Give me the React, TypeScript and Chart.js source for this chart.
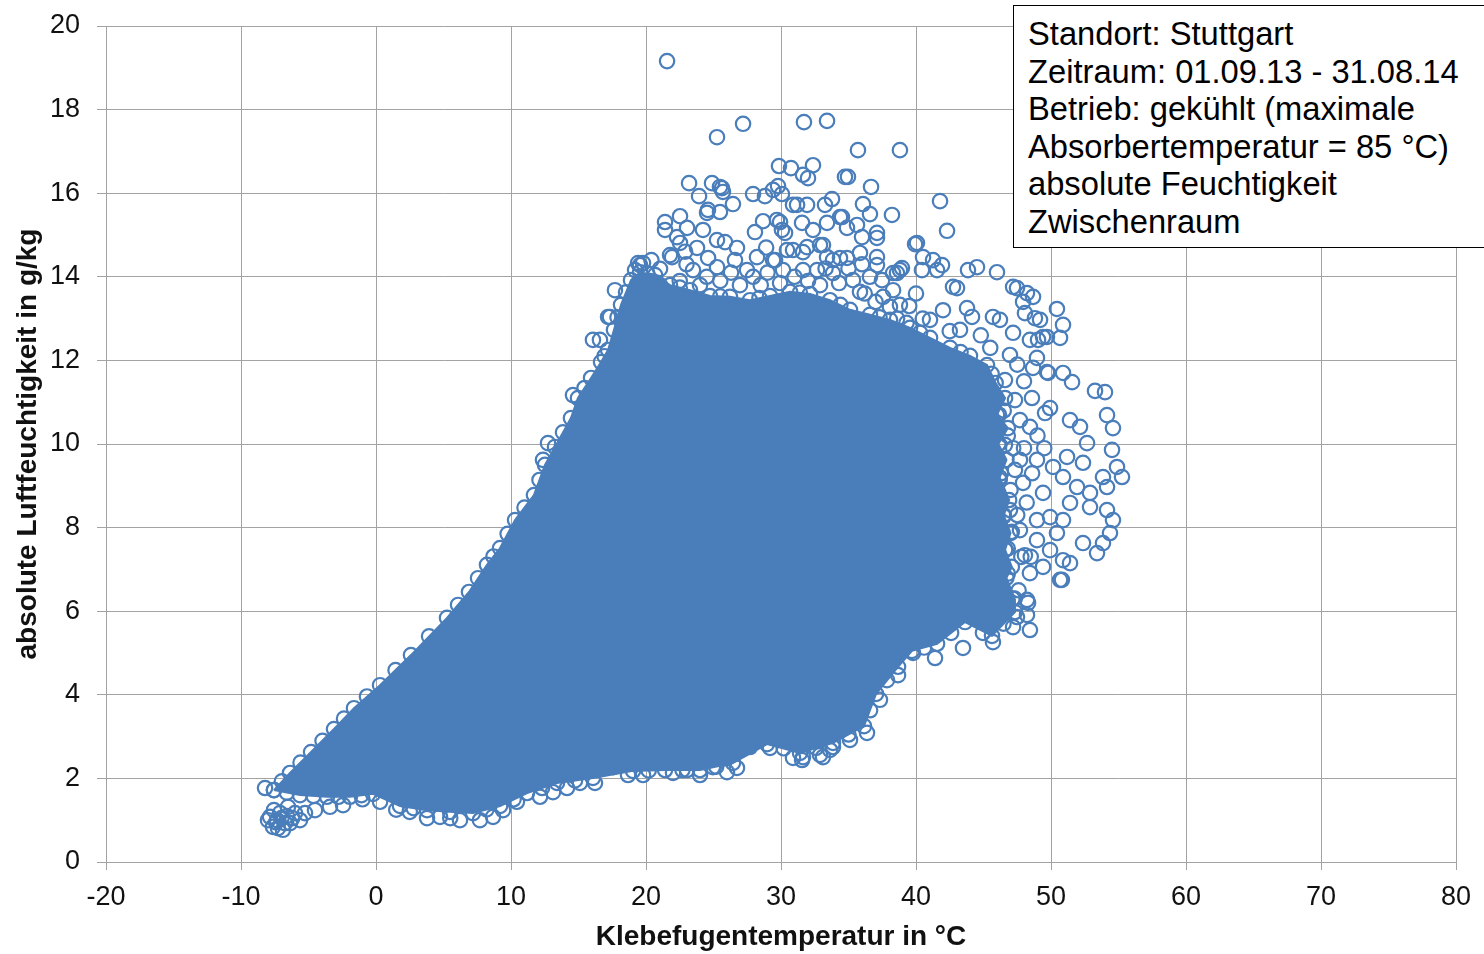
import { useEffect, useRef } from "react";
import { Chart, registerables } from "chart.js";

Chart.register(...registerables);

// Axis ranges (°C / g/kg)
const tempRange = [-20, 80];
const humidityRange = [0, 20];
const tempStep = 10;
const humidityStep = 2;

// Outline of the densely packed part of the point cloud (temperature °C, humidity g/kg)
const coreTemperature = [
  -7.56, -6.37, -4.81, -3.11, -1.63, 0.3, 2.59, 5.26, 6.89, 8.22, 9.19, 10.3, 11.7, 12.52, 13.26, 14.44,
  14.96, 15.93, 16.67, 17.19, 17.63, 18.15, 18.89, 19.56, 20.67, 21.78, 23.26, 24.74, 26.22, 27.7, 29.19,
  30.67, 32.15, 33.63, 35.11, 36.59, 38.07, 39.56, 41.04, 42.52, 44.0, 45.26, 45.9, 46.6, 46.0, 46.8,
  46.1, 46.7, 46.2, 46.9, 46.5, 47.0, 46.6, 47.1, 46.7, 47.3, 47.33, 45.63, 43.63, 41.56, 39.7, 38.67,
  37.04, 36.15, 33.85, 31.41, 28.96, 26.44, 24.0, 21.41, 19.04, 16.07, 13.41, 11.19, 9.19, 7.19, 5.48,
  3.78, 1.78, -0.22, -1.93, -3.63, -5.63, -7.56,
];
const coreHumidity = [
  1.72, 2.13, 2.63, 3.18, 3.68, 4.23, 4.95, 5.84, 6.46, 7.11, 7.51, 8.18, 8.78, 9.5, 9.93, 10.62, 11.1,
  11.58, 11.96, 12.25, 12.73, 13.33, 13.92, 14.11, 14.04, 13.8, 13.68, 13.54, 13.52, 13.44, 13.54, 13.64,
  13.59, 13.44, 13.21, 13.09, 12.97, 12.78, 12.54, 12.3, 12.11, 11.89, 11.46, 11.1, 10.7, 10.38, 10.0,
  9.62, 9.2, 8.66, 8.3, 7.87, 7.47, 7.06, 6.8, 6.3, 5.98, 5.41, 5.74, 5.22, 5.05, 4.67, 4.02, 3.25, 2.85,
  2.61, 2.82, 2.37, 2.2, 2.2, 2.18, 2.01, 1.89, 1.65, 1.34, 1.17, 1.2, 1.24, 1.34, 1.63, 1.56, 1.56, 1.6,
  1.72,
];

// Individual readings [temperature °C, humidity g/kg]
const coldCluster: [number, number][] = [
  [-8.22, 1.77], [-8.0, 1.0], [-7.63, 0.84], [-6.89, 0.77], [-6.37, 0.93], [-7.11, 1.17], [-6.0, 1.17],
  [-5.26, 1.17], [-4.52, 1.24], [-6.52, 1.32], [-7.85, 1.08], [-7.33, 1.0], [-5.63, 1.0], [-7.56, 1.24],
  [-6.74, 0.93], [-7.26, 0.81], [-7.0, 1.05], [-6.6, 1.1], [-7.4, 0.95], [-6.2, 1.05],
];

const cloudEdge: [number, number][] = [
  [-6.97, 1.93], [-5.59, 2.38], [-3.96, 2.9], [-2.37, 3.43], [-0.67, 3.96], [1.45, 4.59], [3.93, 5.4],
  [6.08, 6.15], [7.56, 6.79], [8.7, 7.31], [9.75, 7.85], [11.0, 8.48], [12.11, 9.14], [13.85, 10.28],
  [15.45, 11.34], [16.93, 12.1], [17.89, 13.03], [18.52, 13.63], [20.1, 14.08], [22.5, 13.74],
  [25.5, 13.53], [28.4, 13.49], [31.4, 13.62], [34.4, 13.33], [37.3, 13.03], [40.3, 12.66], [43.3, 12.2],
  [45.6, 11.68], [46.15, 10.7], [46.15, 10.0], [46.2, 9.14], [46.5, 8.27], [46.65, 7.47], [47.15, 6.3],
  [46.48, 5.7], [42.6, 5.48], [40.6, 5.13], [37.85, 4.35], [36.6, 3.63], [35.0, 3.05], [32.6, 2.73],
  [30.2, 2.72], [25.2, 2.28], [22.7, 2.2], [20.2, 2.19], [14.74, 1.95], [12.3, 1.77], [10.19, 1.5],
  [8.19, 1.26], [2.78, 1.29], [-1.08, 1.6], [-2.78, 1.56], [-4.63, 1.58], [-6.6, 1.66],
];

const lowerFringe: [number, number][] = [
  [-3.41, 1.32], [-2.44, 1.36], [-1.0, 1.5], [0.3, 1.44], [1.5, 1.25], [2.5, 1.2], [3.78, 1.05], [4.74, 1.08],
  [5.5, 1.05], [6.22, 1.0], [7.7, 1.0], [8.67, 1.08], [9.41, 1.24], [10.44, 1.44], [12.15, 1.56],
  [13.11, 1.67], [14.15, 1.77], [15.11, 1.89], [16.22, 1.89], [17.56, 2.27], [18.67, 2.08], [19.78, 2.08],
  [20.81, 2.37], [22.0, 2.13], [23.04, 2.2], [24.0, 2.08], [24.96, 2.27], [26.0, 2.15], [26.74, 2.25],
  [26.22, 2.68], [27.7, 2.75], [29.19, 2.73], [30.89, 2.49], [31.56, 2.44], [31.63, 2.51], [32.89, 2.56],
  [33.11, 2.51], [33.63, 2.68], [33.85, 2.75], [35.11, 2.92], [36.37, 3.09], [37.33, 3.88], [38.67, 4.47],
  [39.78, 5.0], [41.41, 4.88], [43.48, 5.12], [44.96, 5.48], [45.7, 5.26],
];

const rightFringe: [number, number][] = [
  [47.19, 5.62], [48.44, 5.55], [48.22, 5.91], [48.3, 6.2], [47.48, 5.86], [48.22, 6.27], [46.22, 6.27],
  [50.81, 6.75], [51.41, 7.15], [50.67, 6.75], [49.41, 7.06], [48.44, 6.91], [47.6, 6.5], [48.07, 7.34],
  [48.5, 7.3], [46.8, 7.5], [49.93, 7.46], [50.89, 7.22], [48.96, 7.7], [47.7, 7.94], [50.44, 7.87],
  [49.93, 8.25], [48.96, 8.18], [50.89, 8.18], [46.96, 8.42], [48.2, 8.6], [52.37, 7.63], [53.41, 7.39],
  [53.85, 7.63], [54.37, 7.87], [54.59, 8.18], [54.15, 8.42], [52.89, 8.49], [51.41, 8.59], [52.89, 8.83],
  [51.93, 8.97], [49.41, 8.83], [47.0, 8.9], [47.93, 9.07], [50.89, 9.21], [53.85, 9.21], [54.15, 8.97],
  [55.26, 9.21], [54.89, 9.45], [50.15, 9.45], [47.33, 9.38], [46.3, 9.3], [48.96, 9.62], [47.7, 9.62],
  [51.19, 9.69], [52.37, 9.55], [54.52, 9.86], [52.67, 10.02], [46.59, 9.98], [48.0, 9.9], [49.0, 10.2],
  [52.15, 10.41], [51.41, 10.57], [48.44, 10.41], [47.7, 10.57], [46.5, 10.8], [49.56, 10.74],
  [49.93, 10.86], [54.59, 10.38], [54.15, 10.69], [47.33, 11.05], [48.59, 11.1], [53.26, 11.27],
  [54.0, 11.24], [51.56, 11.48], [46.59, 11.53], [49.78, 11.7], [50.89, 11.7], [49.7, 11.72],
  [48.67, 11.82], [48.96, 12.06], [46.96, 12.13], [46.8, 10.2], [47.2, 9.9], [47.5, 8.3], [47.8, 7.3],
  [48.6, 9.3], [49.5, 9.9], [48.0, 11.5], [47.5, 11.9], [46.8, 6.9], [47.1, 7.9],
];

const upperRightFringe: [number, number][] = [
  [41.78, 15.81], [42.3, 15.1], [38.22, 15.48], [39.93, 14.78], [40.07, 14.81], [46.0, 14.11],
  [43.85, 14.16], [44.52, 14.23], [47.19, 13.76], [47.48, 13.73], [48.22, 13.61], [48.67, 13.52],
  [50.44, 13.23], [50.89, 12.85], [50.67, 12.54], [49.19, 12.97], [48.07, 13.13], [48.81, 13.01],
  [43.04, 13.73], [42.74, 13.76], [41.26, 14.4], [40.52, 14.47], [38.96, 14.21], [40.44, 14.16],
  [41.56, 14.16], [41.93, 14.28], [43.78, 13.25], [44.15, 13.04], [45.7, 13.04], [46.22, 12.97],
  [47.93, 13.4], [49.04, 12.49], [49.7, 12.56], [49.41, 12.56], [48.44, 12.49], [47.19, 12.66],
  [38.81, 14.16], [38.3, 14.09], [38.59, 14.09], [38.3, 13.68], [38.81, 13.33], [40.0, 13.6],
  [39.5, 13.3], [40.5, 13.0], [41.04, 12.97], [42.0, 13.2], [42.5, 12.7], [43.26, 12.73], [44.8, 12.6],
  [45.5, 12.3], [38.6, 13.0], [39.3, 12.9],
];

const upperFringe: [number, number][] = [
  [21.56, 19.16], [27.19, 17.66], [25.26, 17.34], [31.7, 17.7], [33.41, 17.73], [35.7, 17.03],
  [38.81, 17.03], [29.85, 16.65], [30.74, 16.6], [32.37, 16.67], [31.63, 16.44], [32.0, 16.36],
  [34.74, 16.39], [34.96, 16.39], [36.67, 16.15], [23.19, 16.24], [24.89, 16.24], [25.48, 16.15],
  [25.63, 16.12], [25.7, 16.03], [23.93, 15.93], [26.44, 15.74], [27.93, 15.98], [28.81, 15.93],
  [29.41, 16.08], [29.78, 16.17], [30.07, 15.98], [30.89, 15.72], [31.19, 15.72], [31.93, 15.72],
  [33.26, 15.72], [33.78, 15.86], [36.07, 15.74], [36.59, 15.5], [24.52, 15.53], [24.59, 15.6],
  [25.48, 15.55], [21.41, 15.31], [21.41, 15.12], [22.52, 15.45], [23.04, 15.17], [22.3, 14.95],
  [24.22, 15.12], [28.07, 15.07], [28.67, 15.33], [29.7, 15.36], [29.93, 15.31], [30.07, 15.12],
  [30.3, 15.05], [31.56, 15.29], [32.37, 15.12], [33.41, 15.29], [34.37, 15.43], [34.52, 15.43],
  [34.89, 15.17], [35.63, 15.24], [36.0, 14.95], [37.11, 15.05], [37.11, 14.93], [21.78, 14.52],
  [21.93, 14.47], [22.52, 14.81], [23.78, 14.69], [25.26, 14.88], [25.85, 14.83], [26.74, 14.69],
  [26.59, 14.4], [28.22, 14.47], [29.41, 14.4], [29.56, 14.4], [30.44, 14.64], [30.89, 14.64],
  [31.63, 14.59], [31.93, 14.71], [32.89, 14.76], [33.11, 14.76], [33.41, 14.47], [33.85, 14.4],
  [34.37, 14.45], [34.89, 14.45], [35.85, 14.57], [37.11, 14.47], [37.11, 14.28], [37.48, 13.92],
  [19.41, 14.33], [19.56, 14.28], [19.19, 14.16], [19.78, 14.33], [21.04, 14.19], [23.48, 14.16],
  [25.26, 14.23], [27.48, 14.16], [27.93, 14.0], [30.15, 14.16], [31.63, 14.16], [32.67, 14.16],
  [33.85, 14.09], [35.33, 13.92], [36.59, 14.0], [37.56, 13.52], [38.07, 13.28], [21.04, 13.8],
  [24.0, 13.8], [26.96, 13.8], [29.93, 13.85], [32.89, 13.8], [35.85, 13.64], [17.7, 13.68],
  [17.33, 13.04], [17.19, 13.04], [16.59, 12.49], [16.07, 12.49], [14.59, 11.17], [12.74, 10.02],
  [12.37, 9.62], [20.3, 13.9], [20.4, 14.4], [22.5, 13.9], [22.9, 14.6], [23.0, 14.3], [24.5, 14.0],
  [24.6, 14.45], [25.5, 13.9], [26.3, 14.1], [28.5, 13.8], [28.9, 14.7], [29.0, 14.1], [31.0, 14.0],
  [32.0, 13.9], [33.3, 14.2], [34.3, 13.85], [35.0, 14.2], [36.0, 14.3], [36.2, 13.6], [37.0, 13.4],
];

const infoLines = [
  "Standort: Stuttgart",
  "Zeitraum: 01.09.13 - 31.08.14",
  "Betrieb: gekühlt (maximale",
  "Absorbertemperatur = 85 °C)",
  "absolute Feuchtigkeit",
  "Zwischenraum",
];

const xTitle = "Klebefugentemperatur in °C";
const yTitle = "absolute Luftfeuchtigkeit in g/kg";

const BLUE = "#4a7ebb";
const GRID = "#a3a3a3";
const TEXT = "#111111";
const FONT = "'Liberation Sans', Arial, sans-serif";

export default function App() {
  const canvasRef = useRef<HTMLCanvasElement>(null);

  useEffect(() => {
    document.body.style.margin = "0";
    document.body.style.overflow = "hidden";
    const canvas = canvasRef.current;
    if (!canvas) return;

    const readings = [
      ...coldCluster,
      ...cloudEdge,
      ...lowerFringe,
      ...rightFringe,
      ...upperRightFringe,
      ...upperFringe,
    ].map(([x, y]) => ({ x, y }));
    const core = coreTemperature.map((x, i) => ({ x, y: coreHumidity[i] }));

    // hollow circle markers
    const circle = {
      pointRadius: 7.2,
      pointHoverRadius: 7.2,
      pointBorderWidth: 2.2,
      pointBorderColor: BLUE,
      pointBackgroundColor: "rgba(0,0,0,0)",
    };

    const chart = new Chart(canvas, {
      type: "scatter",
      data: {
        datasets: [
          {
            label: "Messwerte",
            data: readings,
            borderColor: BLUE,
            backgroundColor: "rgba(0,0,0,0)",
            ...circle,
          },
          {
            type: "line",
            label: "Messwerte (dicht)",
            data: core,
            borderColor: BLUE,
            borderWidth: 2,
            backgroundColor: BLUE,
            fill: "shape",
            tension: 0,
            ...circle,
          } as any,
        ],
      },
      options: {
        animation: false,
        responsive: false,
        events: [],
        layout: { padding: { top: 26, right: 28, bottom: 0, left: 0 } },
        plugins: { legend: { display: false }, tooltip: { enabled: false } },
        scales: {
          x: {
            type: "linear",
            min: tempRange[0],
            max: tempRange[1],
            ticks: { stepSize: tempStep, color: TEXT, font: { family: FONT, size: 27 }, padding: 11 },
            grid: { color: GRID, lineWidth: 1, tickLength: 8 },
            border: { color: GRID },
            title: {
              display: true,
              text: xTitle,
              color: TEXT,
              font: { family: FONT, size: 28, weight: "bold" },
              padding: { top: 0, bottom: 0 },
            },
            afterFit: (s: any) => {
              s.height = 92;
            },
          },
          y: {
            type: "linear",
            min: humidityRange[0],
            max: humidityRange[1],
            ticks: { stepSize: humidityStep, color: TEXT, font: { family: FONT, size: 27 }, padding: 17 },
            grid: { color: GRID, lineWidth: 1, tickLength: 9 },
            border: { color: GRID },
            title: {
              display: true,
              text: yTitle,
              color: TEXT,
              font: { family: FONT, size: 28, weight: "bold" },
              padding: { top: 11, bottom: 0 },
            },
            afterFit: (s: any) => {
              s.width = 106;
              s.paddingTop = 16;
              s.paddingBottom = 16;
            },
          },
        },
      },
    });

    return () => chart.destroy();
  }, []);

  return (
    <div style={{ position: "relative", width: 1484, height: 954, overflow: "hidden", background: "#fff" }}>
      <canvas ref={canvasRef} width={1484} height={954} style={{ display: "block" }} />
      <div
        style={{
          position: "absolute",
          left: 1013,
          top: 5,
          width: 500,
          height: 243,
          boxSizing: "border-box",
          border: "1.5px solid #000",
          background: "#fff",
          padding: "9px 0 0 14px",
          fontFamily: FONT,
          fontSize: 32.7,
          lineHeight: "37.6px",
          color: "#000",
          whiteSpace: "pre",
        }}
      >
        {infoLines.map((line) => (
          <div key={line}>{line}</div>
        ))}
      </div>
    </div>
  );
}
